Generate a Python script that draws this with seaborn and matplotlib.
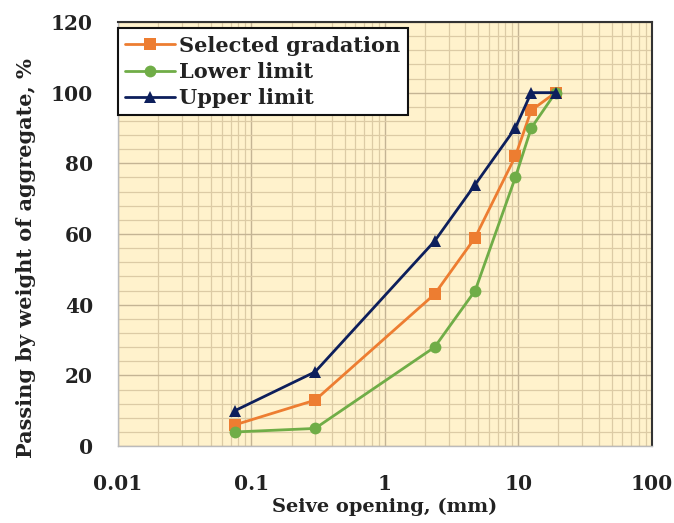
import pandas as pd
import matplotlib
matplotlib.use("Agg")
import matplotlib.pyplot as plt
import seaborn as sns
from matplotlib.ticker import FixedLocator, LogLocator, MultipleLocator, NullFormatter

# sieve sizes (mm) and percent passing
sieve = [0.075, 0.3, 2.36, 4.75, 9.5, 12.5, 19]
selected = [6, 13, 43, 59, 82, 95, 100]
lower = [4, 5, 28, 44, 76, 90, 100]
upper = [10, 21, 58, 74, 90, 100, 100]
names = ["Selected gradation", "Lower limit", "Upper limit"]
colors = ["#ED7D31", "#70AD47", "#0D1F5C"]
xticks = [0.01, 0.1, 1, 10, 100]
xticklabels = ["0.01", "0.1", "1", "10", "100"]

df = pd.DataFrame({
    "Opening": sieve * 3,
    "Passing": selected + lower + upper,
    "Series": [n for n in names for _ in sieve],
})

sns.set_theme(style="white")
plt.rcParams["font.family"] = ["DejaVu Serif"]
plt.rcParams["font.weight"] = "bold"

fig = plt.figure(figsize=(6.74, 5.23), dpi=100)
ax = fig.add_axes([0.175, 0.147, 0.792, 0.811])
ax.set_facecolor("#FFF2CC")

sns.lineplot(data=df, x="Opening", y="Passing", hue="Series", style="Series",
             markers=["s", "o", "^"], dashes=False, palette=colors,
             hue_order=names, style_order=names, markersize=8.5,
             markeredgewidth=0, linewidth=2, sort=False, ax=ax, zorder=3)

ax.set_xscale("log")
ax.set_xlim(0.01, 100)
ax.set_ylim(0, 120)
ax.xaxis.set_major_locator(FixedLocator(xticks))
ax.set_xticklabels(xticklabels)
ax.xaxis.set_minor_locator(LogLocator(base=10, subs=range(2, 10)))
ax.xaxis.set_minor_formatter(NullFormatter())
ax.yaxis.set_major_locator(MultipleLocator(20))
ax.yaxis.set_minor_locator(MultipleLocator(4))

ax.grid(which="major", color="#C4B494", linewidth=1.0)
ax.grid(which="minor", color="#DCCBA5", linewidth=0.9)
ax.set_axisbelow(True)

for s in ["top", "right"]:
    ax.spines[s].set_color("#333333")
    ax.spines[s].set_linewidth(1.5)
for s in ["left", "bottom"]:
    ax.spines[s].set_color("#BBBBBB")
    ax.spines[s].set_linewidth(1.0)

ax.tick_params(axis="both", which="both", length=0, labelsize=14.5)
ax.tick_params(axis="y", pad=18)
ax.tick_params(axis="x", pad=20)
for lbl in ax.get_xticklabels() + ax.get_yticklabels():
    lbl.set_fontweight("bold")
    lbl.set_color("#222222")

ax.set_xlabel("Seive opening, (mm)", fontsize=14, fontweight="bold",
              color="#222222", labelpad=3)
ax.set_ylabel("Passing by weight of aggregate, %", fontsize=15,
              fontweight="bold", color="#222222")
ax.yaxis.set_label_coords(-0.154, 0.443)

leg = ax.legend(loc="upper left", bbox_to_anchor=(0.0, 0.985), frameon=True,
                fancybox=False, fontsize=15, borderaxespad=0.0,
                handlelength=2.4, handletextpad=0.2,
                labelspacing=0.3, borderpad=0.35)
leg.get_frame().set_edgecolor("#111111")
leg.get_frame().set_linewidth(1.5)
leg.get_frame().set_facecolor("white")
leg.get_frame().set_alpha(1)
for t in leg.get_texts():
    t.set_fontweight("bold")
    t.set_color("#222222")

fig.savefig("out.png", dpi=100)
